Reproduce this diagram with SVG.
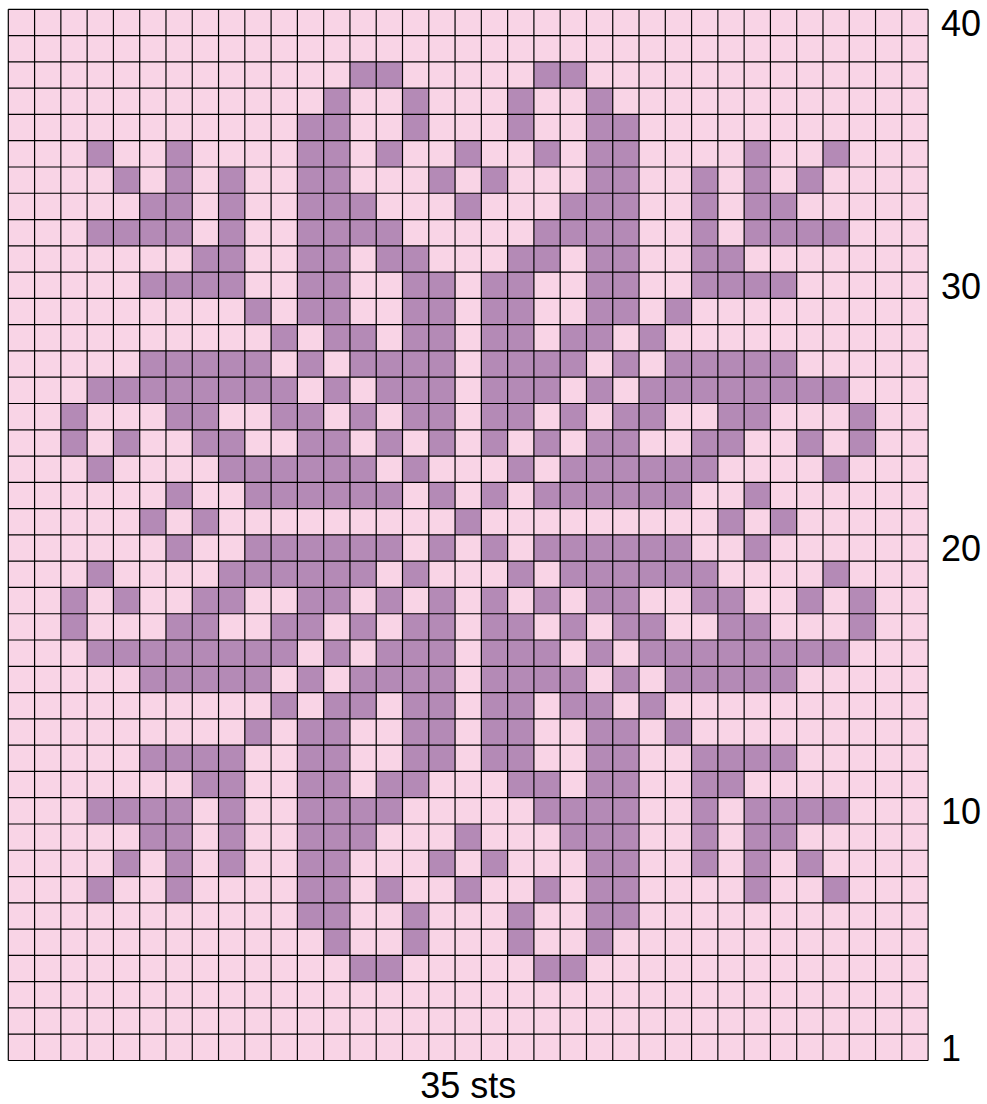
<svg xmlns="http://www.w3.org/2000/svg" xmlns:xlink="http://www.w3.org/1999/xlink" width="987" height="1104" viewBox="0 0 987 1104">
<style>
.bg{fill:#F9D4E6}
.p rect{fill:#B48AB6}
.grid{fill:none;stroke:#000;stroke-width:1.2}
.lbl{font-family:"Liberation Sans",Arial,Helvetica,sans-serif;font-size:36px;fill:#000}
</style>
<defs>
<g id="r38" class="p"><rect x="349.94" y="0" width="52.56" height="26.28"/><rect x="533.90" y="0" width="52.56" height="26.28"/></g>
<g id="r37" class="p"><rect x="323.66" y="0" width="26.28" height="26.28"/><rect x="402.50" y="0" width="26.28" height="26.28"/><rect x="507.62" y="0" width="26.28" height="26.28"/><rect x="586.46" y="0" width="26.28" height="26.28"/></g>
<g id="r36" class="p"><rect x="297.38" y="0" width="52.56" height="26.28"/><rect x="402.50" y="0" width="26.28" height="26.28"/><rect x="507.62" y="0" width="26.28" height="26.28"/><rect x="586.46" y="0" width="52.56" height="26.28"/></g>
<g id="r35" class="p"><rect x="87.14" y="0" width="26.28" height="26.28"/><rect x="165.98" y="0" width="26.28" height="26.28"/><rect x="297.38" y="0" width="52.56" height="26.28"/><rect x="376.22" y="0" width="26.28" height="26.28"/><rect x="455.06" y="0" width="26.28" height="26.28"/><rect x="533.90" y="0" width="26.28" height="26.28"/><rect x="586.46" y="0" width="52.56" height="26.28"/><rect x="744.14" y="0" width="26.28" height="26.28"/><rect x="822.98" y="0" width="26.28" height="26.28"/></g>
<g id="r34" class="p"><rect x="113.42" y="0" width="26.28" height="26.28"/><rect x="165.98" y="0" width="26.28" height="26.28"/><rect x="218.54" y="0" width="26.28" height="26.28"/><rect x="297.38" y="0" width="52.56" height="26.28"/><rect x="428.78" y="0" width="26.28" height="26.28"/><rect x="481.34" y="0" width="26.28" height="26.28"/><rect x="586.46" y="0" width="52.56" height="26.28"/><rect x="691.58" y="0" width="26.28" height="26.28"/><rect x="744.14" y="0" width="26.28" height="26.28"/><rect x="796.70" y="0" width="26.28" height="26.28"/></g>
<g id="r33" class="p"><rect x="139.70" y="0" width="52.56" height="26.28"/><rect x="218.54" y="0" width="26.28" height="26.28"/><rect x="297.38" y="0" width="78.84" height="26.28"/><rect x="455.06" y="0" width="26.28" height="26.28"/><rect x="560.18" y="0" width="78.84" height="26.28"/><rect x="691.58" y="0" width="26.28" height="26.28"/><rect x="744.14" y="0" width="52.56" height="26.28"/></g>
<g id="r32" class="p"><rect x="87.14" y="0" width="105.12" height="26.28"/><rect x="218.54" y="0" width="26.28" height="26.28"/><rect x="297.38" y="0" width="105.12" height="26.28"/><rect x="533.90" y="0" width="105.12" height="26.28"/><rect x="691.58" y="0" width="26.28" height="26.28"/><rect x="744.14" y="0" width="105.12" height="26.28"/></g>
<g id="r31" class="p"><rect x="192.26" y="0" width="52.56" height="26.28"/><rect x="297.38" y="0" width="52.56" height="26.28"/><rect x="376.22" y="0" width="52.56" height="26.28"/><rect x="507.62" y="0" width="52.56" height="26.28"/><rect x="586.46" y="0" width="52.56" height="26.28"/><rect x="691.58" y="0" width="52.56" height="26.28"/></g>
<g id="r30" class="p"><rect x="139.70" y="0" width="105.12" height="26.28"/><rect x="297.38" y="0" width="52.56" height="26.28"/><rect x="402.50" y="0" width="52.56" height="26.28"/><rect x="481.34" y="0" width="52.56" height="26.28"/><rect x="586.46" y="0" width="52.56" height="26.28"/><rect x="691.58" y="0" width="105.12" height="26.28"/></g>
<g id="r29" class="p"><rect x="244.82" y="0" width="26.28" height="26.28"/><rect x="297.38" y="0" width="52.56" height="26.28"/><rect x="402.50" y="0" width="52.56" height="26.28"/><rect x="481.34" y="0" width="52.56" height="26.28"/><rect x="586.46" y="0" width="52.56" height="26.28"/><rect x="665.30" y="0" width="26.28" height="26.28"/></g>
<g id="r28" class="p"><rect x="271.10" y="0" width="26.28" height="26.28"/><rect x="323.66" y="0" width="52.56" height="26.28"/><rect x="402.50" y="0" width="52.56" height="26.28"/><rect x="481.34" y="0" width="52.56" height="26.28"/><rect x="560.18" y="0" width="52.56" height="26.28"/><rect x="639.02" y="0" width="26.28" height="26.28"/></g>
<g id="r27" class="p"><rect x="139.70" y="0" width="131.40" height="26.28"/><rect x="297.38" y="0" width="26.28" height="26.28"/><rect x="349.94" y="0" width="105.12" height="26.28"/><rect x="481.34" y="0" width="105.12" height="26.28"/><rect x="612.74" y="0" width="26.28" height="26.28"/><rect x="665.30" y="0" width="131.40" height="26.28"/></g>
<g id="r26" class="p"><rect x="87.14" y="0" width="210.24" height="26.28"/><rect x="323.66" y="0" width="26.28" height="26.28"/><rect x="376.22" y="0" width="78.84" height="26.28"/><rect x="481.34" y="0" width="78.84" height="26.28"/><rect x="586.46" y="0" width="26.28" height="26.28"/><rect x="639.02" y="0" width="210.24" height="26.28"/></g>
<g id="r25" class="p"><rect x="60.86" y="0" width="26.28" height="26.28"/><rect x="165.98" y="0" width="52.56" height="26.28"/><rect x="271.10" y="0" width="52.56" height="26.28"/><rect x="349.94" y="0" width="26.28" height="26.28"/><rect x="402.50" y="0" width="52.56" height="26.28"/><rect x="481.34" y="0" width="52.56" height="26.28"/><rect x="560.18" y="0" width="26.28" height="26.28"/><rect x="612.74" y="0" width="52.56" height="26.28"/><rect x="717.86" y="0" width="52.56" height="26.28"/><rect x="849.26" y="0" width="26.28" height="26.28"/></g>
<g id="r24" class="p"><rect x="60.86" y="0" width="26.28" height="26.28"/><rect x="113.42" y="0" width="26.28" height="26.28"/><rect x="192.26" y="0" width="52.56" height="26.28"/><rect x="297.38" y="0" width="52.56" height="26.28"/><rect x="376.22" y="0" width="26.28" height="26.28"/><rect x="428.78" y="0" width="26.28" height="26.28"/><rect x="481.34" y="0" width="26.28" height="26.28"/><rect x="533.90" y="0" width="26.28" height="26.28"/><rect x="586.46" y="0" width="52.56" height="26.28"/><rect x="691.58" y="0" width="52.56" height="26.28"/><rect x="796.70" y="0" width="26.28" height="26.28"/><rect x="849.26" y="0" width="26.28" height="26.28"/></g>
<g id="r23" class="p"><rect x="87.14" y="0" width="26.28" height="26.28"/><rect x="218.54" y="0" width="157.68" height="26.28"/><rect x="402.50" y="0" width="26.28" height="26.28"/><rect x="507.62" y="0" width="26.28" height="26.28"/><rect x="560.18" y="0" width="157.68" height="26.28"/><rect x="822.98" y="0" width="26.28" height="26.28"/></g>
<g id="r22" class="p"><rect x="165.98" y="0" width="26.28" height="26.28"/><rect x="244.82" y="0" width="157.68" height="26.28"/><rect x="428.78" y="0" width="26.28" height="26.28"/><rect x="481.34" y="0" width="26.28" height="26.28"/><rect x="533.90" y="0" width="157.68" height="26.28"/><rect x="744.14" y="0" width="26.28" height="26.28"/></g>
<g id="r21" class="p"><rect x="139.70" y="0" width="26.28" height="26.28"/><rect x="192.26" y="0" width="26.28" height="26.28"/><rect x="455.06" y="0" width="26.28" height="26.28"/><rect x="717.86" y="0" width="26.28" height="26.28"/><rect x="770.42" y="0" width="26.28" height="26.28"/></g>
</defs>

<g id="chart">
<rect class="bg" x="8.3" y="9.3" width="919.8" height="1051.2"/>
<g id="cells">
<use xlink:href="#r38" y="61.86"/>
<use xlink:href="#r37" y="88.14"/>
<use xlink:href="#r36" y="114.42"/>
<use xlink:href="#r35" y="140.70"/>
<use xlink:href="#r34" y="166.98"/>
<use xlink:href="#r33" y="193.26"/>
<use xlink:href="#r32" y="219.54"/>
<use xlink:href="#r31" y="245.82"/>
<use xlink:href="#r30" y="272.10"/>
<use xlink:href="#r29" y="298.38"/>
<use xlink:href="#r28" y="324.66"/>
<use xlink:href="#r27" y="350.94"/>
<use xlink:href="#r26" y="377.22"/>
<use xlink:href="#r25" y="403.50"/>
<use xlink:href="#r24" y="429.78"/>
<use xlink:href="#r23" y="456.06"/>
<use xlink:href="#r22" y="482.34"/>
<use xlink:href="#r21" y="508.62"/>
<use xlink:href="#r22" y="534.90"/>
<use xlink:href="#r23" y="561.18"/>
<use xlink:href="#r24" y="587.46"/>
<use xlink:href="#r25" y="613.74"/>
<use xlink:href="#r26" y="640.02"/>
<use xlink:href="#r27" y="666.30"/>
<use xlink:href="#r28" y="692.58"/>
<use xlink:href="#r29" y="718.86"/>
<use xlink:href="#r30" y="745.14"/>
<use xlink:href="#r31" y="771.42"/>
<use xlink:href="#r32" y="797.70"/>
<use xlink:href="#r33" y="823.98"/>
<use xlink:href="#r34" y="850.26"/>
<use xlink:href="#r35" y="876.54"/>
<use xlink:href="#r36" y="902.82"/>
<use xlink:href="#r37" y="929.10"/>
<use xlink:href="#r38" y="955.38"/>
</g>
<path id="gridlines" class="grid" d="M8.30 9.3V1060.5M34.58 9.3V1060.5M60.86 9.3V1060.5M87.14 9.3V1060.5M113.42 9.3V1060.5M139.70 9.3V1060.5M165.98 9.3V1060.5M192.26 9.3V1060.5M218.54 9.3V1060.5M244.82 9.3V1060.5M271.10 9.3V1060.5M297.38 9.3V1060.5M323.66 9.3V1060.5M349.94 9.3V1060.5M376.22 9.3V1060.5M402.50 9.3V1060.5M428.78 9.3V1060.5M455.06 9.3V1060.5M481.34 9.3V1060.5M507.62 9.3V1060.5M533.90 9.3V1060.5M560.18 9.3V1060.5M586.46 9.3V1060.5M612.74 9.3V1060.5M639.02 9.3V1060.5M665.30 9.3V1060.5M691.58 9.3V1060.5M717.86 9.3V1060.5M744.14 9.3V1060.5M770.42 9.3V1060.5M796.70 9.3V1060.5M822.98 9.3V1060.5M849.26 9.3V1060.5M875.54 9.3V1060.5M901.82 9.3V1060.5M928.10 9.3V1060.5
M8.3 9.30H928.1M8.3 35.58H928.1M8.3 61.86H928.1M8.3 88.14H928.1M8.3 114.42H928.1M8.3 140.70H928.1M8.3 166.98H928.1M8.3 193.26H928.1M8.3 219.54H928.1M8.3 245.82H928.1M8.3 272.10H928.1M8.3 298.38H928.1M8.3 324.66H928.1M8.3 350.94H928.1M8.3 377.22H928.1M8.3 403.50H928.1M8.3 429.78H928.1M8.3 456.06H928.1M8.3 482.34H928.1M8.3 508.62H928.1M8.3 534.90H928.1M8.3 561.18H928.1M8.3 587.46H928.1M8.3 613.74H928.1M8.3 640.02H928.1M8.3 666.30H928.1M8.3 692.58H928.1M8.3 718.86H928.1M8.3 745.14H928.1M8.3 771.42H928.1M8.3 797.70H928.1M8.3 823.98H928.1M8.3 850.26H928.1M8.3 876.54H928.1M8.3 902.82H928.1M8.3 929.10H928.1M8.3 955.38H928.1M8.3 981.66H928.1M8.3 1007.94H928.1M8.3 1034.22H928.1M8.3 1060.50H928.1"/>
</g>

<g id="labels">
<text class="lbl" x="941" y="35.8">40</text>
<text class="lbl" x="941" y="298.5">30</text>
<text class="lbl" x="941" y="561.3">20</text>
<text class="lbl" x="941" y="824.1">10</text>
<text class="lbl" x="941" y="1060.6">1</text>
<text class="lbl" x="468.2" y="1098" text-anchor="middle">35 sts</text>
</g>
</svg>
